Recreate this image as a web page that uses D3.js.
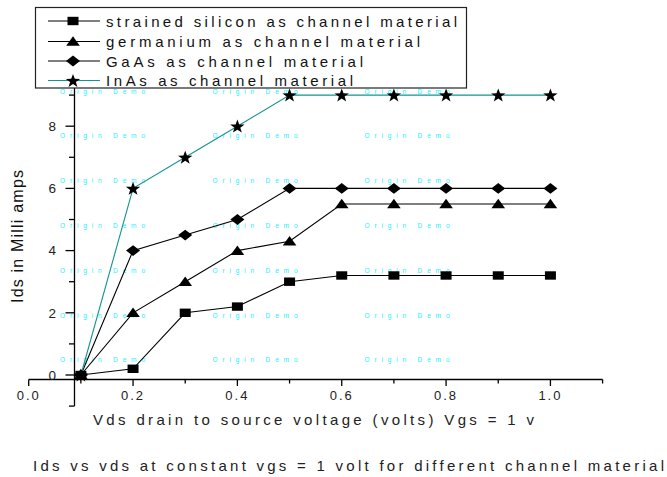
<!DOCTYPE html>
<html><head><meta charset="utf-8">
<script src="https://cdn.jsdelivr.net/npm/d3@7"></script>
<style>body{margin:0;background:#fff}svg{display:block;font-family:"Liberation Sans",Arial,sans-serif}</style>
</head><body><svg id="c" width="667" height="477"></svg>
<script>
const vds = [0.1,0.2,0.3,0.4,0.5,0.6,0.7,0.8,0.9,1.0];
const strainedSi = [0,0.2,2,2.2,3,3.2,3.2,3.2,3.2,3.2];
const germanium = [0,2,3,4,4.3,5.5,5.5,5.5,5.5,5.5];
const gaas = [0,4,4.5,5,6,6,6,6,6,6];
const inas = [0,6,7,8,9,9,9,9,9,9];
const seriesNames = ["strained silicon as channel material","germanium as channel material","GaAs as channel material","InAs as channel material"];
const xTickLabels = ["0.0","0.2","0.4","0.6","0.8","1.0"];
const yTickLabels = ["0","2","4","6","8"];

const svg = d3.select("#c");
const x = d3.scaleLinear().domain([0,1.1]).range([28.7,602.6]);
const y = d3.scaleLinear().domain([0,9]).range([375,95.1]);
const yAxisX = 74.5, xAxisY = 379.5;

// watermark
const wmRows = [91,135,180,225.5,270.5,315.5,359.5];
const wmCols = [60,212.5,364.5];
const wm = svg.append("g");
wmRows.forEach(r=>wmCols.forEach(c=>{
  wm.append("text").attr("x",c).attr("y",r+2.5).attr("font-size",6.5)
    .attr("fill","#22f0ff").attr("textLength",85).attr("lengthAdjust","spacing").text("Origin Demo");
}));

// axes
const xMajor = [0,0.2,0.4,0.6,0.8,1.0];
const xAll = d3.range(0,12).map(i=>+(i*0.1).toFixed(1));
const gx = svg.append("g").attr("transform",`translate(0,${xAxisY})`);
gx.append("line").attr("x1",x(0)).attr("x2",x(1.1)).attr("stroke","#000").attr("stroke-width",1.3);
xAll.forEach(v=>{
  const maj = xMajor.some(m=>Math.abs(m-v)<1e-9);
  gx.append("line").attr("x1",x(v)).attr("x2",x(v)).attr("y1",0).attr("y2",maj?6.5:4).attr("stroke","#000").attr("stroke-width",1.3);
});
xMajor.forEach((v,i)=>{
  gx.append("text").attr("x",x(v)).attr("y",20.5).attr("text-anchor","middle").attr("font-size",13)
    .attr("letter-spacing","2px").attr("fill","#222").text(xTickLabels[i]);
});

const gy = svg.append("g");
gy.append("line").attr("x1",yAxisX).attr("x2",yAxisX).attr("y1",y(-1)).attr("y2",y(9.5)).attr("stroke","#000").attr("stroke-width",1.3);
d3.range(-1,10).forEach(v=>{
  const maj = v>=0 && v%2===0;
  gy.append("line").attr("x1",yAxisX-(maj?9:5.5)).attr("x2",yAxisX).attr("y1",y(v)).attr("y2",y(v)).attr("stroke","#000").attr("stroke-width",1.3);
});
yTickLabels.forEach(t=>{
  gy.append("text").attr("x",56).attr("y",y(+t)).attr("dy","0.36em").attr("text-anchor","end")
    .attr("font-size",13.5).attr("fill","#222").text(t);
});

// axis titles
svg.append("text").attr("transform","translate(23,236.5) rotate(-90)").attr("text-anchor","middle")
  .attr("font-size",16).attr("fill","#111").attr("textLength",133).attr("lengthAdjust","spacing").text("Ids in Milli amps");
svg.append("text").attr("x",93).attr("y",425).attr("font-size",15).attr("fill","#222")
  .attr("textLength",441).attr("lengthAdjust","spacing").text("Vds drain to source voltage (volts) Vgs = 1 v");
svg.append("text").attr("x",33).attr("y",471).attr("font-size",15).attr("fill","#222")
  .attr("textLength",631).attr("lengthAdjust","spacing").text("Ids vs vds at constant vgs = 1 volt for different channel material");

// markers
const markers = {
  square: "M-5.5,-4.2H5.5V4.2H-5.5Z",
  triangle: "M0,-5.2L6.8,4.3L-6.8,4.3Z",
  diamond: "M0,-5.4L7,0L0,5.4L-7,0Z",
  star: (()=>{let p=[];for(let i=0;i<10;i++){const a=-Math.PI/2+i*Math.PI/5;const r=i%2?2.9:7.2;p.push([r*Math.cos(a)*1.05,r*Math.sin(a)+0.6]);}return "M"+p.map(d=>d[0].toFixed(2)+","+d[1].toFixed(2)).join("L")+"Z";})()
};
const series = [
  {name:seriesNames[0], vals:strainedSi, color:"#000", m:"square"},
  {name:seriesNames[1], vals:germanium, color:"#000", m:"triangle"},
  {name:seriesNames[2], vals:gaas, color:"#000", m:"diamond"},
  {name:seriesNames[3], vals:inas, color:"#139494", m:"star"}
];
const line = d3.line().x((d,i)=>x(vds[i])).y(d=>y(d));
const plot = svg.append("g");
series.forEach(s=>{
  plot.append("path").attr("d",line(s.vals)).attr("fill","none").attr("stroke",s.color).attr("stroke-width",1.1);
});
series.forEach(s=>{
  plot.selectAll(null).data(s.vals).enter().append("path")
    .attr("d",markers[s.m]).attr("transform",(d,i)=>`translate(${x(vds[i])},${y(d)})`).attr("fill","#000");
});

// legend
const lg = svg.append("g");
lg.append("rect").attr("x",35.5).attr("y",7.5).attr("width",431).attr("height",80.5).attr("fill","#fff").attr("stroke","#222").attr("stroke-width",1.2);
const rowY = [21,41.5,61,80.5];
const lw = [351,314,257,247];
series.forEach((s,i)=>{
  lg.append("line").attr("x1",48).attr("x2",100).attr("y1",rowY[i]).attr("y2",rowY[i]).attr("stroke",s.color).attr("stroke-width",1.2);
  lg.append("path").attr("d",markers[s.m]).attr("transform",`translate(73,${rowY[i]})`).attr("fill","#000");
  lg.append("text").attr("x",106).attr("y",rowY[i]+5.5).attr("font-size",15).attr("fill","#111")
    .attr("textLength",lw[i]).attr("lengthAdjust","spacing").text(s.name);
});
</script></body></html>
